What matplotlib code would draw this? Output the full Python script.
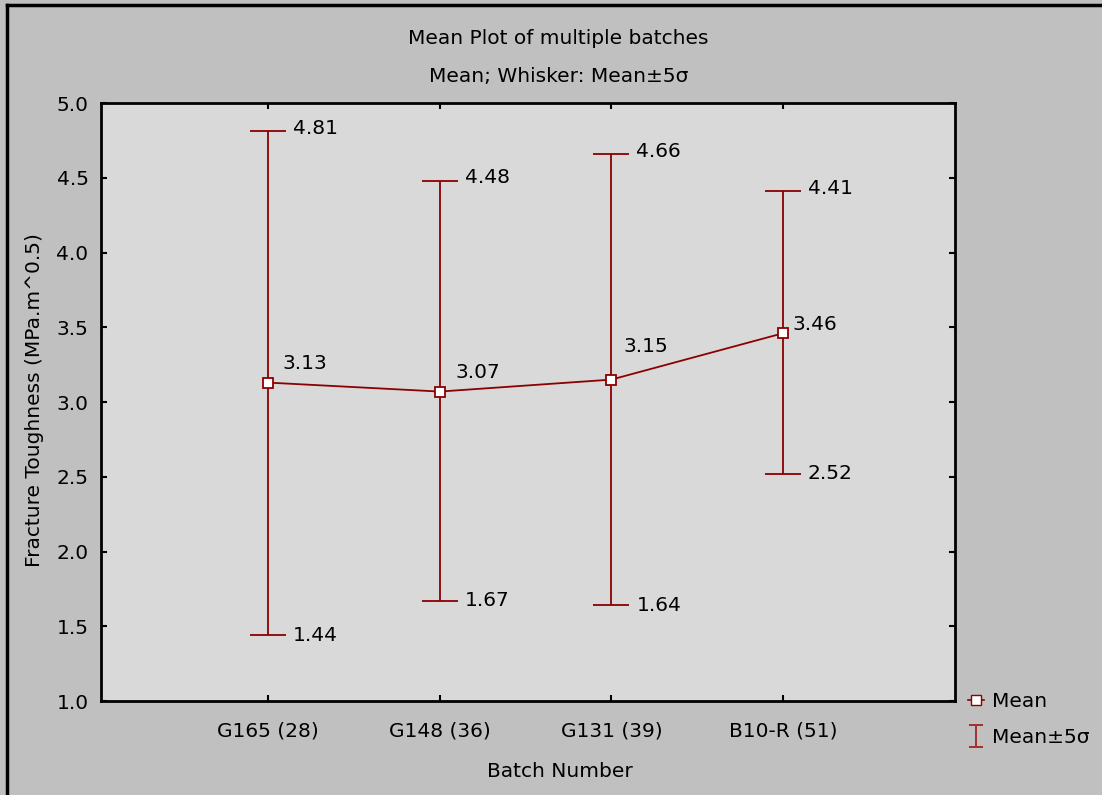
import matplotlib.pyplot as plt
import numpy as np
from matplotlib.lines import Line2D
from matplotlib.path import Path

#
# Mean plot of fracture toughness for several batches
#

batches = ["G165 (28)", "G148 (36)", "G131 (39)", "B10-R (51)"]
means = [3.13, 3.07, 3.15, 3.46]
upper = [4.81, 4.48, 4.66, 4.41]
lower = [1.44, 1.67, 1.64, 2.52]

# label offsets in points (dx, dy) for the mean labels
mean_off = [(10, 14), (11, 14), (9, 24), (7, 6)]

red = "#8b0000"
fs = 14.5
plt.rcParams['font.family'] = ['DejaVu Sans']

fig = plt.figure(figsize=(11.02, 7.95), dpi=100, facecolor="#c0c0c0")
ax = fig.add_axes([0.0917, 0.1182, 0.7749, 0.7522])
ax.set_facecolor("#d9d9d9")

x = np.arange(len(batches))
m = np.array(means)
lo = m - np.array(lower)
hi = np.array(upper) - m

ax.errorbar(x, m, yerr=[lo, hi], fmt='none', ecolor=red, elinewidth=1.3,
            capsize=13, capthick=1.3, zorder=2)
ax.plot(x, m, color=red, lw=1.3, marker='s', ms=7, mfc='white',
        mec=red, mew=1.3, zorder=3)

for i in range(len(x)):
    ax.annotate(f"{upper[i]:.2f}", (x[i], upper[i]), xytext=(18, 2),
                textcoords='offset points', fontsize=fs, va='center')
    ax.annotate(f"{lower[i]:.2f}", (x[i], lower[i]), xytext=(18, 0),
                textcoords='offset points', fontsize=fs, va='center')
    ax.annotate(f"{means[i]:.2f}", (x[i], means[i]), xytext=mean_off[i],
                textcoords='offset points', fontsize=fs, va='center')

ax.set_xlim(-0.974, 4.003)
ax.set_ylim(1.0, 5.0)
ax.set_xticks(x)
ax.set_xticklabels(batches)
ax.set_yticks(np.arange(1.0, 5.01, 0.5))
ax.set_yticklabels([f"{v:.1f}" for v in np.arange(1.0, 5.01, 0.5)])
ax.tick_params(direction='in', length=4, width=1.5, top=True, right=True,
               labelsize=fs, colors='black')
ax.tick_params(axis='y', pad=9)
ax.tick_params(axis='x', pad=15)
for s in ax.spines.values():
    s.set_linewidth(2)

fig.text(0.507, 0.952, "Mean Plot of multiple batches", ha='center',
         va='center', fontsize=fs)
fig.text(0.507, 0.904, "Mean; Whisker: Mean±5σ", ha='center',
         va='center', fontsize=fs)
fig.text(0.508, 0.029, "Batch Number", ha='center', va='center', fontsize=fs)
fig.text(0.031, 0.497, "Fracture Toughness (MPa.m^0.5)", ha='center',
         va='center', rotation=90, fontsize=fs)

# legend outside the plot area
ibar = Path([(-0.6, -1), (0.6, -1), (0, -1), (0, 1), (-0.6, 1), (0.6, 1)],
            [Path.MOVETO, Path.LINETO, Path.MOVETO, Path.LINETO,
             Path.MOVETO, Path.LINETO])
handles = [Line2D([], [], color=red, lw=1.2, marker='s', ms=7, mfc='white', mec=red),
           Line2D([], [], ls='none', marker=ibar, ms=16, mec="#a03030", mew=1.4)]
fig.legend(handles, ["Mean", "Mean±5σ"], loc='upper left',
           bbox_to_anchor=(0.862, 0.152), frameon=False, fontsize=fs,
           handlelength=0.8, handletextpad=0.4, labelspacing=0.85)

# frame on left and top of the picture
fig.add_artist(Line2D([0.0065, 0.0065], [0, 0.994], transform=fig.transFigure,
                      color='black', lw=2.5))
fig.add_artist(Line2D([0.0065, 1], [0.994, 0.994], transform=fig.transFigure,
                      color='black', lw=2.5))

fig.savefig("out.png", dpi=100, facecolor=fig.get_facecolor())
